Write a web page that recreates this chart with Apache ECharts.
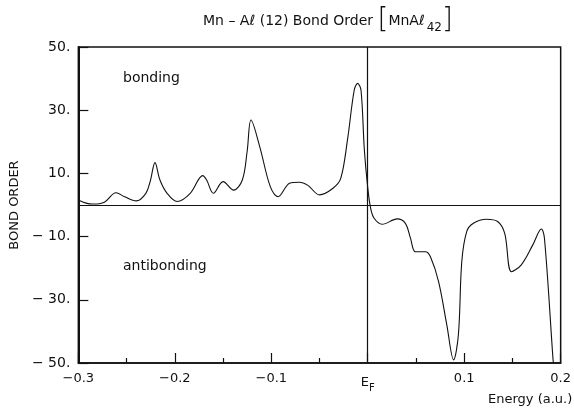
<!DOCTYPE html>
<html>
<head>
<meta charset="utf-8">
<script src="https://cdn.jsdelivr.net/npm/echarts@6/dist/echarts.min.js"></script>
<style>
  html, body { margin: 0; padding: 0; background: #fff; }
  #chart { width: 574px; height: 408px; }
</style>
</head>
<body>
<div id="chart"></div>
<script>
// Mn–Al(12) bond order versus energy for the MnAl42 cluster
const energy = [
  -0.300, -0.292, -0.285, -0.273, -0.261, -0.252, -0.240, -0.230, -0.2255, -0.2205,
  -0.2155, -0.208, -0.1975, -0.184, -0.171, -0.167, -0.160, -0.150, -0.139, -0.130,
  -0.125, -0.121, -0.112, -0.101, -0.093, -0.081, -0.071, -0.062, -0.050, -0.036,
  -0.028, -0.021, -0.014, -0.0105, -0.007, -0.0035, 0.000, 0.003, 0.0066, 0.015,
  0.0306, 0.039, 0.0443, 0.0495, 0.0598, 0.065, 0.0735, 0.082, 0.089, 0.094,
  0.0975, 0.1026, 0.1095, 0.123, 0.135, 0.142, 0.149, 0.159, 0.171, 0.180,
  0.1832, 0.192, 0.1925
];
const bondOrder = [
  1.6, 0.6, 0.3, 0.9, 3.9, 2.6, 1.3, 3.7, 7.5, 13.4,
  8.0, 3.7, 1.1, 3.7, 9.3, 7.9, 3.7, 7.4, 4.7, 7.9,
  17.0, 26.9, 18.5, 5.8, 2.6, 6.9, 7.2, 6.2, 3.2, 5.3,
  8.4, 20.6, 36.4, 38.5, 36.4, 17.4, 5.5, -1.0, -4.2, -6.1,
  -4.4, -5.8, -10.5, -14.8, -14.8, -16.4, -24.3, -38.0, -49.0, -41.0,
  -17.9, -8.4, -5.8, -4.5, -5.3, -9.0, -21.1, -19.0, -12.7, -7.6,
  -10.5, -48.5, -50.0
];
const xTicks = [-0.3, -0.2, -0.1, 0, 0.1, 0.2];
const yTicks = [-50, -30, -10, 10, 30, 50];

const ink = '#111';
const font = 'DejaVu Sans';
const points = energy.map((e, i) => [e, bondOrder[i]]);

const chart = echarts.init(document.getElementById('chart'), null, { renderer: 'canvas' });

chart.setOption({
  backgroundColor: '#fff',
  animation: false,
  grid: {
    left: 77, right: 11, top: 47, bottom: 45,
    show: true, borderColor: ink, borderWidth: 1.5, backgroundColor: 'transparent'
  },
  xAxis: {
    type: 'value',
    min: xTicks[0], max: xTicks[xTicks.length - 1], interval: 0.1,
    axisLine: { show: true, onZero: false, lineStyle: { color: ink, width: 1.5 } },
    axisTick: { show: true, inside: true, length: 10, lineStyle: { color: ink, width: 1.2 } },
    minorTick: { show: true, splitNumber: 2, length: 5, lineStyle: { color: ink, width: 1.2 } },
    splitLine: { show: false },
    axisLabel: {
      margin: 9, color: ink, fontFamily: font, fontSize: 13,
      formatter: v => {
        if (Math.abs(v) < 1e-9) return '{e|E}{f|F}';
        return (v < 0 ? '\u2212' : '') + Math.abs(v).toFixed(1);
      },
      rich: {
        e: { fontFamily: font, fontSize: 13, color: ink },
        f: { fontFamily: font, fontSize: 10, color: ink, padding: [11, 0, 0, 0] }
      }
    }
  },
  yAxis: {
    type: 'value',
    min: -50, max: 50, interval: 10,
    name: 'BOND ORDER', nameLocation: 'middle', nameRotate: 90, nameGap: 55,
    nameTextStyle: { color: ink, fontFamily: font, fontSize: 13 },
    axisLine: { show: true, onZero: false, lineStyle: { color: ink, width: 2 } },
    axisTick: { show: true, inside: true, length: 10, customValues: yTicks, lineStyle: { color: ink, width: 1.2 } },
    splitLine: { show: false },
    axisLabel: {
      margin: 8, color: ink, fontFamily: font, fontSize: 14,
      customValues: yTicks,
      formatter: v => (v < 0 ? '\u2212 ' + (-v) : String(v)) + '.'
    }
  },
  graphic: [
    {
      type: 'text', left: 203, top: 7, z: 10,
      style: {
        text: 'Mn \u2013 A\u2113 (12) Bond Order {br|[}MnA\u2113{sub|42}{br|]}',
        fontFamily: font, fontSize: 14, fill: ink,
        rich: {
          br: { fontFamily: font, fontSize: 28, fontWeight: 'lighter', color: ink },
          sub: { fontFamily: font, fontSize: 12, color: ink, padding: [13, 0, 0, 2] }
        }
      }
    },
    {
      type: 'text', left: 123, top: 71,
      style: { text: 'bonding', fontFamily: font, fontSize: 14, fill: ink }
    },
    {
      type: 'text', left: 123, top: 259,
      style: { text: 'antibonding', fontFamily: font, fontSize: 14, fill: ink }
    },
    {
      type: 'text', left: 488, top: 393,
      style: { text: 'Energy (a.u.)', fontFamily: font, fontSize: 13, fill: ink }
    }
  ],
  series: [{
    type: 'line',
    data: points,
    smooth: 0.35,
    showSymbol: false,
    lineStyle: { color: ink, width: 1.1 },
    clip: true,
    markLine: {
      silent: true,
      symbol: 'none',
      label: { show: false },
      lineStyle: { color: ink, width: 1.2, type: 'solid' },
      data: [{ yAxis: 0 }, { xAxis: 0 }]
    }
  }]
});
</script>
</body>
</html>
